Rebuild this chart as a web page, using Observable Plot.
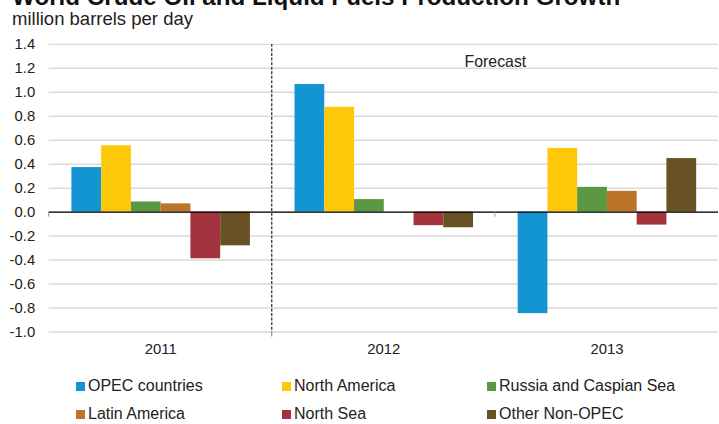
<!DOCTYPE html>
<html><head><meta charset="utf-8">
<script src="https://cdn.jsdelivr.net/npm/d3@7"></script>
<script src="https://cdn.jsdelivr.net/npm/@observablehq/plot@0.6"></script>
<style>
html,body{margin:0;padding:0;}
body{width:719px;height:424px;overflow:hidden;background:#fff;font-family:"Liberation Sans",Arial,sans-serif;color:#222;position:relative;}
#title{position:absolute;left:12px;top:-15.5px;font-weight:bold;font-size:24.2px;line-height:1;white-space:nowrap;color:#111;}
#subtitle{position:absolute;left:12px;top:10.3px;font-size:18.5px;line-height:1;white-space:nowrap;color:#222;}
#chart{position:absolute;left:0;top:30px;}
.lg{position:absolute;font-size:16px;line-height:1;white-space:nowrap;display:flex;align-items:center;color:#222;}
.lg span.sw{display:inline-block;width:9px;height:9px;margin-right:3px;}
</style>
</head><body>
<div id="title">World Crude Oil and Liquid Fuels Production Growth</div>
<div id="subtitle">million barrels per day</div>
<div id="chart"></div>
<div id="legend"></div>
<script>
const years = ["2011", "2012", "2013"];
const regions = ["OPEC countries", "North America", "Russia and Caspian Sea", "Latin America", "North Sea", "Other Non-OPEC"];
const colors = ["#1395d3", "#fec80a", "#5b9843", "#bd732a", "#a3333f", "#685122"];
const v2011 = [0.372, 0.554, 0.085, 0.069, -0.389, -0.281];
const v2012 = [1.065, 0.875, 0.105, 0.0, -0.113, -0.13];
const v2013 = [-0.847, 0.532, 0.207, 0.174, -0.108, 0.447];
const yTicks = [-1.0, -0.8, -0.6, -0.4, -0.2, 0.0, 0.2, 0.4, 0.6, 0.8, 1.0, 1.2, 1.4];
const forecastLabel = "Forecast";

const series = [v2011, v2012, v2013];
const data = [];
years.forEach((yr, i) => regions.forEach((r, j) => data.push({year: yr, region: r, value: series[i][j]})));

const chart = Plot.plot({
  width: 725,
  height: 340,
  marginLeft: 48,
  marginRight: 0,
  marginTop: 14,
  marginBottom: 36,
  style: {fontFamily: "Liberation Sans, Arial, sans-serif", fontSize: "15px", color: "#222", background: "transparent"},
  fx: {domain: years, padding: 0, label: null, tickSize: 0, tickPadding: 12, axis: "bottom"},
  x: {domain: regions, paddingInner: 0, paddingOuter: 0.75, axis: null},
  y: {domain: [-1.0, 1.4], ticks: yTicks, tickFormat: d => d.toFixed(1), label: null, tickSize: 0, tickPadding: 14},
  color: {domain: regions, range: colors},
  marks: [
    Plot.ruleY(yTicks, {stroke: "#d9d9d9", strokeWidth: 1.5}),
    Plot.barY(data, {fx: "year", x: "region", y: "value", fill: "region"}),
    Plot.ruleY([0], {stroke: "#000", strokeWidth: 1.3}),
    Plot.text([{year: "2012", label: forecastLabel}], {fx: "year", text: "label", frameAnchor: "top-right", textAnchor: "middle", lineAnchor: "middle", dy: 17.7, fontSize: 16, fill: "#222"})
  ]
});
document.getElementById("chart").appendChild(chart);

// Dashed separator and small category ticks, positioned from Plot's scales
const fxs = chart.scale("fx"), ys = chart.scale("y");
const svg = d3.select(chart);
const xb = fxs.apply("2012");
const xc = fxs.apply("2013");
svg.append("line")
  .attr("x1", xb).attr("x2", xb)
  .attr("y1", ys.apply(1.4)).attr("y2", ys.apply(-1.0))
  .attr("stroke", "#333").attr("stroke-width", 1.3).attr("stroke-dasharray", "3,1.6");
svg.append("line")
  .attr("x1", xb).attr("x2", xb)
  .attr("y1", ys.apply(-1.0)).attr("y2", ys.apply(-1.0) + 5)
  .attr("stroke", "#777").attr("stroke-width", 1);
svg.append("line")
  .attr("x1", xc).attr("x2", xc)
  .attr("y1", ys.apply(0)).attr("y2", ys.apply(0) + 5)
  .attr("stroke", "#999").attr("stroke-width", 1);
svg.append("line")
  .attr("x1", fxs.apply("2011")).attr("x2", fxs.apply("2011"))
  .attr("y1", ys.apply(0)).attr("y2", ys.apply(0) + 5)
  .attr("stroke", "#999").attr("stroke-width", 1);

// Legend
const legendCols = [76, 282, 487];
const legendRows = [386, 414];
const lg = document.getElementById("legend");
regions.forEach((r, i) => {
  const d = document.createElement("div");
  d.className = "lg";
  d.style.left = legendCols[i % 3] + "px";
  d.style.top = (legendRows[Math.floor(i / 3)] - 8) + "px";
  d.style.height = "16px";
  d.innerHTML = `<span class="sw" style="background:${colors[i]}"></span><span>${r}</span>`;
  lg.appendChild(d);
});
</script>
</body></html>
